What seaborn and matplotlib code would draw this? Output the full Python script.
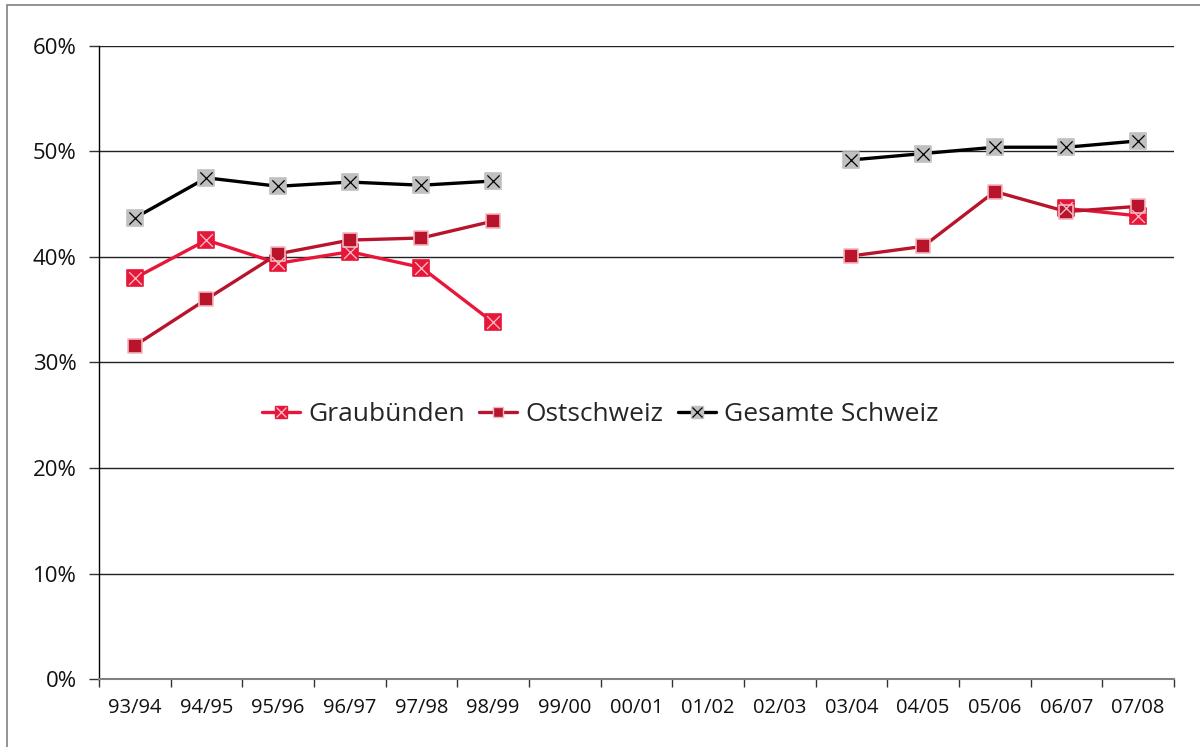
import numpy as np
import pandas as pd
import seaborn as sns
import matplotlib.pyplot as plt
from matplotlib.lines import Line2D
from matplotlib.patches import Rectangle

# --- data (percent) ---
periods = ['93/94', '94/95', '95/96', '96/97', '97/98', '98/99', '99/00',
           '00/01', '01/02', '02/03', '03/04', '04/05', '05/06', '06/07', '07/08']
nan = np.nan
graubuenden = [38.0, 41.6, 39.4, 40.5, 39.0, 33.8, nan, nan, nan, nan,
               nan, nan, nan, 44.6, 43.9]
ostschweiz = [31.6, 36.0, 40.3, 41.6, 41.8, 43.4, nan, nan, nan, nan,
              40.1, 41.0, 46.2, 44.3, 44.8]
gesamte = [43.7, 47.5, 46.7, 47.1, 46.8, 47.2, nan, nan, nan, nan,
           49.2, 49.8, 50.4, 50.4, 51.0]
y_ticks = [0, 10, 20, 30, 40, 50, 60]

series = {'Graubünden': graubuenden, 'Ostschweiz': ostschweiz,
          'Gesamte Schweiz': gesamte}

rows = []
for name, vals in series.items():
    seg = 0
    for i, v in enumerate(vals):
        if np.isnan(v):
            seg += 1
            continue
        rows.append({'series': name, 'pos': i, 'value': v, 'seg': seg})
df = pd.DataFrame(rows)

# styles: line colour, square face, square edge, cross colour, square size
styles = {
    'Graubünden': dict(line='#e8173a', face='#e8173a', edge='#e8173a', cross='#f7c4cc', ms=11.5),
    'Ostschweiz': dict(line='#b8142b', face='#b8142b', edge='#f3b6c0', cross=None, ms=9.5),
    'Gesamte Schweiz': dict(line='#000000', face='#c0c0c0', edge='#c0c0c0', cross='#000000', ms=11),
}

sns.set_theme(style='white')
plt.rcParams['font.family'] = ['Open Sans', 'DejaVu Sans']

fig = plt.figure(figsize=(12, 7.47), dpi=100)
ax = fig.add_axes([0.0825, 0.091, 0.8958, 0.8475])

for name in series:
    st = styles[name]
    sub = df[df['series'] == name]
    sns.lineplot(data=sub, x='pos', y='value', units='seg', estimator=None,
                 color=st['line'], linewidth=2.4, ax=ax, zorder=3, legend=False)
    sns.scatterplot(data=sub, x='pos', y='value', marker='s', s=st['ms'] ** 2,
                    color=st['face'], edgecolor=st['edge'], linewidth=1.2,
                    ax=ax, zorder=4, legend=False)
    if st['cross']:
        sns.scatterplot(data=sub, x='pos', y='value', marker='x', s=(st['ms'] * 0.8) ** 2,
                        color=st['cross'], linewidth=0.9, ax=ax, zorder=5, legend=False)

# axes
ax.set_xlim(-0.5, len(periods) - 0.5)
ax.set_ylim(0, 60)
ax.set_yticks(y_ticks)
ax.set_yticklabels([f'{t}%' for t in y_ticks])
for t in y_ticks[1:]:
    ax.axhline(t, color='#222222', linewidth=1.0, zorder=1)

ax.set_xticks(np.arange(-0.5, len(periods)))
ax.set_xticklabels([])
ax.set_xticks(np.arange(len(periods)), minor=True)
ax.set_xticklabels(periods, minor=True)
ax.tick_params(axis='x', which='major', direction='out', length=6, width=1, color='#333333', bottom=True)
ax.tick_params(axis='x', which='minor', length=0, pad=14, labelsize=14.5, labelcolor='#111111')
ax.tick_params(axis='y', direction='out', length=7, width=1, color='#333333', left=True,
               labelsize=16, labelcolor='#111111', pad=9)
ax.set_xlabel('')
ax.set_ylabel('')

for s in ['top', 'right']:
    ax.spines[s].set_visible(False)
ax.spines['left'].set_color('#000000')
ax.spines['left'].set_linewidth(1.0)
ax.spines['bottom'].set_color('#808080')
ax.spines['bottom'].set_linewidth(1.5)

# legend
handles = []
for name in series:
    st = styles[name]
    sq = Line2D([], [], color=st['line'], linewidth=2.4, marker='s', markersize=st['ms'] * 0.8,
                markerfacecolor=st['face'], markeredgecolor=st['edge'])
    if st['cross']:
        cr = Line2D([], [], linestyle='none', marker='x', markersize=st['ms'] * 0.6,
                    color=st['cross'], markeredgewidth=0.9)
        handles.append((sq, cr))
    else:
        handles.append(sq)
ax.legend(handles, list(series.keys()), loc='center', bbox_to_anchor=(0.466, 0.418),
          ncol=3, frameon=False, fontsize=19, handlelength=1.45, handletextpad=0.3,
          columnspacing=0.55)

# figure border
fig.patches.append(Rectangle((0.006, -0.05), 1.1, 1.043, transform=fig.transFigure,
                             fill=False, edgecolor='#808080', linewidth=1.2))

fig.savefig('out.png', dpi=100)
